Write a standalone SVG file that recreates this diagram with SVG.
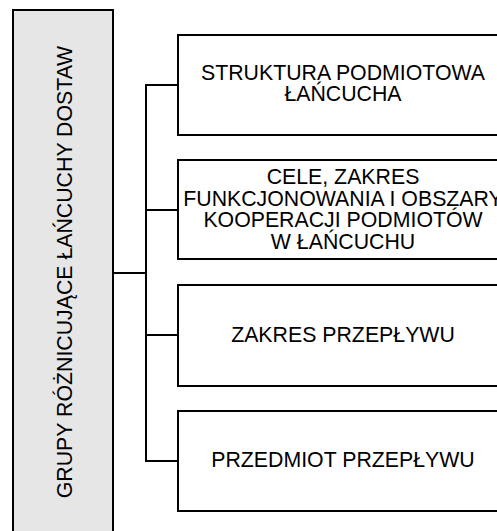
<svg xmlns="http://www.w3.org/2000/svg" width="497" height="531" viewBox="0 0 497 531">
<style>
.box{fill:#fff;stroke:#000;stroke-width:2}
.main{fill:#e6e6e6;stroke:#000;stroke-width:2}
.t{font-family:"Liberation Sans",Arial,sans-serif;font-size:21.3px;fill:#000;text-anchor:middle}
.vt{font-family:"Liberation Sans",Arial,sans-serif;font-size:21.3px;fill:#000;text-anchor:middle}
.c{fill:none;stroke:#000;stroke-width:2}
</style>
<rect width="497" height="531" fill="#fff"/>
<g id="main">
<rect class="main" x="13" y="10" width="100" height="540"/>
<text class="vt" transform="translate(72,272) rotate(-90)">GRUPY RÓŻNICUJĄCE ŁAŃCUCHY DOSTAW</text>
</g>
<g id="connectors">
<path class="c" d="M113 273H146M146 84V462M146 85H178M146 210H178M146 335H178M146 461H178"/>
</g>
<g id="n1">
<rect class="box" x="178" y="35" width="330" height="100"/>
<text class="t" x="343" y="80">STRUKTURA PODMIOTOWA</text>
<text class="t" x="343" y="101">ŁAŃCUCHA</text>
</g>
<g id="n2">
<rect class="box" x="178" y="160" width="330" height="99"/>
<text class="t" x="343" y="184">CELE, ZAKRES</text>
<text class="t" x="343" y="206">FUNKCJONOWANIA I OBSZARY</text>
<text class="t" x="343" y="227">KOOPERACJI PODMIOTÓW</text>
<text class="t" x="343" y="249">W ŁAŃCUCHU</text>
</g>
<g id="n3">
<rect class="box" x="178" y="285" width="330" height="101"/>
<text class="t" x="343" y="342">ZAKRES PRZEPŁYWU</text>
</g>
<g id="n4">
<rect class="box" x="178" y="411" width="330" height="100"/>
<text class="t" x="343" y="467">PRZEDMIOT PRZEPŁYWU</text>
</g>
</svg>
